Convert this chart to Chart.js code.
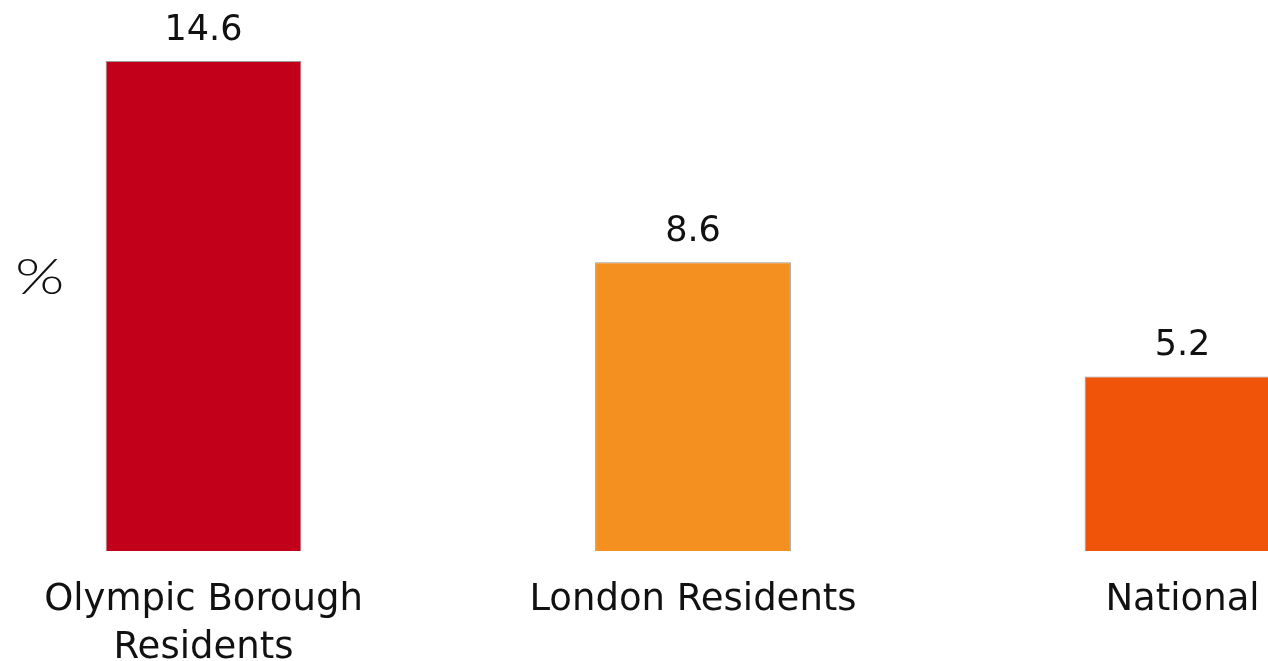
<!DOCTYPE html>
<html>
<head>
<meta charset="utf-8">
<script src="https://cdn.jsdelivr.net/npm/chart.js@4.4.1/dist/chart.umd.min.js"></script>
<style>
    html, body { margin: 0; padding: 0; background: #fff; overflow: hidden; }
    #wrap { position: relative; width: 1268px; height: 661px; }
    #unit {
        position: absolute; left: 15px; top: 250px; line-height: 1;
        font-family: 'Lato', sans-serif; font-size: 50px; font-weight: 300; color: #111;
        transform: scaleX(1.27); transform-origin: left top;
    }
</style>
</head>
<body>
<div id="wrap">
    <canvas id="chart"></canvas>
    <div id="unit">%</div>
</div>
<script>
const categories = [['Olympic Borough', 'Residents'], 'London Residents', 'National'];
const values = [14.6, 8.6, 5.2];
const barColors = ['#c3001a', '#f39020', '#ef5408'];

const valueLabels = {
    id: 'valueLabels',
    afterDatasetsDraw(chart) {
        const ctx = chart.ctx;
        const meta = chart.getDatasetMeta(0);
        ctx.save();
        ctx.font = '35px "DejaVu Sans", sans-serif';
        ctx.fillStyle = '#111';
        ctx.textAlign = 'center';
        ctx.textBaseline = 'alphabetic';
        meta.data.forEach((bar, i) => {
            ctx.fillText(values[i].toFixed(1), bar.x, bar.y - 21);
        });
        ctx.restore();
    },
};

new Chart(document.getElementById('chart'), {
    type: 'bar',
    data: {
        labels: categories,
        datasets: [{
            data: values,
            backgroundColor: barColors,
            borderColor: '#9a9a9a',
            borderWidth: 1,
            categoryPercentage: 1,
            barPercentage: 0.4,
            clip: false,
        }],
    },
    options: {
        responsive: true,
        maintainAspectRatio: false,
        animation: false,
        layout: { padding: { left: 203.5, right: 85.5, top: 14, bottom: 0 } },
        plugins: {
            legend: { display: false },
            tooltip: { enabled: false },
        },
        scales: {
            x: {
                offset: false,
                grid: { display: false, drawTicks: false },
                border: { display: false },
                ticks: {
                    padding: 25,
                    color: '#111',
                    maxRotation: 0,
                    autoSkip: false,
                    font: { family: '"DejaVu Sans", sans-serif', size: 37, lineHeight: 1.3 },
                },
                afterFit(scale) {
                    // labels may hang past the plot edges, the layout padding already leaves room
                    scale.height = 110;
                    scale.paddingLeft = 0;
                    scale.paddingRight = 0;
                },
            },
            y: {
                display: false,
                min: 0,
                max: 16,
            },
        },
    },
    plugins: [valueLabels],
});
</script>
</body>
</html>
